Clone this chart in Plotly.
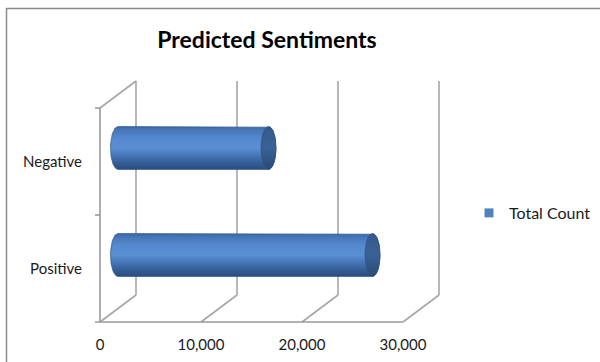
import numpy as np
import plotly.graph_objects as go

# ---- data ----
categories = ["Positive", "Negative"]
total_count = [25200, 14900]
x_ticks = [0, 10000, 20000, 30000]
x_tick_labels = ["0", "10,000", "20,000", "30,000"]
series_name = "Total Count"

# ---- geometry of the pseudo-3D box (pixel anchors) ----
W, H = 600, 362
PLOT_LEFT, PLOT_RIGHT, PLOT_TOP, PLOT_BOTTOM = 92, 450, 70, 326
ZERO_X, FULL_X = 100, 403        # pixel columns of 0 and 30,000 on the front plane
ZERO_Y, BAND_PX = 322, 107       # pixel row of the front floor, height of one category band
X_MAX_FRONT = 30000

kx = (FULL_X - ZERO_X) / X_MAX_FRONT
X_RANGE = [(PLOT_LEFT - ZERO_X) / kx, (PLOT_RIGHT - ZERO_X) / kx]
Y_RANGE = [(ZERO_Y - PLOT_BOTTOM) / BAND_PX, (ZERO_Y - PLOT_TOP) / BAND_PX]
px_x = 1 / kx          # data units per pixel
px_y = 1 / BAND_PX
DX = 36 * px_x          # depth offset of the back wall
DY = 27 * px_y
N = len(categories)

M_L, M_R, M_T, M_B = PLOT_LEFT, W - PLOT_RIGHT, PLOT_TOP, H - PLOT_BOTTOM
PLOT_W = PLOT_RIGHT - PLOT_LEFT
PLOT_H = PLOT_BOTTOM - PLOT_TOP

GRID = "#a6a6a6"
AXIS = "#9a9a9a"
shapes = []


def seg(x0, y0, x1, y1, color=GRID, width=1.6):
    shapes.append(dict(type="line", xref="x", yref="y", x0=x0, y0=y0, x1=x1, y1=y1,
                       line=dict(color=color, width=width), layer="below"))


# back wall gridlines and floor diagonals
for v in x_ticks:
    seg(v + DX, DY, v + DX, N + DY)
    seg(v, 0, v + DX, DY)
# left wall: top edge and front axis line
seg(0, N, DX, N + DY)
seg(0, 0, 0, N, color=AXIS)
# front value axis
seg(-5 * px_x, 0, X_MAX_FRONT, 0, color=AXIS)
# small ticks on the category axis
for b in range(1, N + 1):
    seg(-5 * px_x, b, 0, b, color=AXIS)


def paper_x(p):
    return (p - PLOT_LEFT) / PLOT_W


def paper_y(p):
    return (PLOT_BOTTOM - p) / PLOT_H


# chart frame (left and top edges)
shapes.append(dict(type="line", xref="paper", yref="paper",
                   x0=paper_x(6.5), y0=paper_y(8), x1=paper_x(6.5), y1=paper_y(H + 2),
                   line=dict(color="#8c8c8c", width=1.5)))
shapes.append(dict(type="line", xref="paper", yref="paper",
                   x0=paper_x(6), y0=paper_y(8.5), x1=paper_x(W + 2), y1=paper_y(8.5),
                   line=dict(color="#8c8c8c", width=1.5)))

fig = go.Figure()

# ---- cylinders ----
HALF_H = 0.2                 # half thickness of a cylinder (y units)
CAP_A = 7.5 * px_x           # half width of the elliptic end caps
body_scale = [[0.0, "#2a4c7c"], [0.18, "#36619c"], [0.5, "#5a8fd4"],
              [0.72, "#5589cf"], [0.92, "#4676b8"], [1.0, "#3b67a4"]]
cap_scale = [[0.0, "#2b4a76"], [0.5, "#3a6196"], [1.0, "#36598b"]]

t_half = np.linspace(-np.pi / 2, np.pi / 2, 40)
t_full = np.linspace(0, 2 * np.pi, 80)

for i, (cat, val) in enumerate(zip(categories, total_count)):
    yc = i + 0.5 + DY / 2
    x_left = DX / 2
    x_right = val + DX / 2
    # body: top edge, rounded right side, bottom edge, rounded left side
    xs = np.concatenate([
        [x_left, x_right],
        x_right + CAP_A * np.cos(t_half[::-1]),
        [x_right, x_left],
        x_left - CAP_A * np.cos(t_half),
    ])
    ys = np.concatenate([
        [yc + HALF_H, yc + HALF_H],
        yc + HALF_H * np.sin(t_half[::-1]),
        [yc - HALF_H, yc - HALF_H],
        yc + HALF_H * np.sin(t_half),
    ])
    fig.add_trace(go.Scatter(
        x=xs, y=ys, mode="lines", fill="toself",
        line=dict(color="#345d93", width=0.8),
        fillgradient=dict(type="vertical", colorscale=body_scale,
                          start=yc - HALF_H, stop=yc + HALF_H),
        hoverinfo="skip", showlegend=False,
    ))
    # end cap
    fig.add_trace(go.Scatter(
        x=x_right + CAP_A * np.cos(t_full), y=yc + HALF_H * np.sin(t_full),
        mode="lines", fill="toself",
        line=dict(color="#2f5385", width=0.8),
        fillgradient=dict(type="vertical", colorscale=cap_scale,
                          start=yc - HALF_H, stop=yc + HALF_H),
        hoverinfo="skip", showlegend=False,
    ))

# legend entry
fig.add_trace(go.Scatter(
    x=[None], y=[None], mode="markers", name=series_name,
    marker=dict(symbol="square", size=9, color="#4f81bd"),
))

FONT = "Lato, Carlito, 'Open Sans', sans-serif"
TXT = "#1a1a1a"

fig.update_layout(
    width=W, height=H, autosize=False,
    margin=dict(l=M_L, r=M_R, t=M_T, b=M_B, autoexpand=False),
    paper_bgcolor="white", plot_bgcolor="white",
    font=dict(family=FONT, size=15, color=TXT),
    title=dict(text="Predicted Sentiments", xref="container", x=267 / W, xanchor="center",
               yref="container", y=1 - 40 / H, yanchor="middle",
               font=dict(family=FONT, size=23, color="#000000", weight="bold")),
    xaxis=dict(range=X_RANGE, tickvals=x_ticks, ticktext=x_tick_labels,
               showgrid=False, zeroline=False, showline=False, ticks="",
               ticklabelstandoff=8, fixedrange=True,
               tickfont=dict(family=FONT, size=15, color=TXT)),
    yaxis=dict(range=Y_RANGE, tickvals=[i + 0.5 for i in range(N)], ticktext=categories,
               showgrid=False, zeroline=False, showline=False, ticks="",
               ticklabelstandoff=9, fixedrange=True,
               tickfont=dict(family=FONT, size=15, color=TXT)),
    legend=dict(xref="container", x=469 / W, xanchor="left",
                yref="container", y=1 - 213 / H, yanchor="middle",
                font=dict(family=FONT, size=16, color=TXT),
                bgcolor="rgba(0,0,0,0)", itemwidth=30),
    shapes=shapes,
    showlegend=True,
)

fig.write_html("out.html")
